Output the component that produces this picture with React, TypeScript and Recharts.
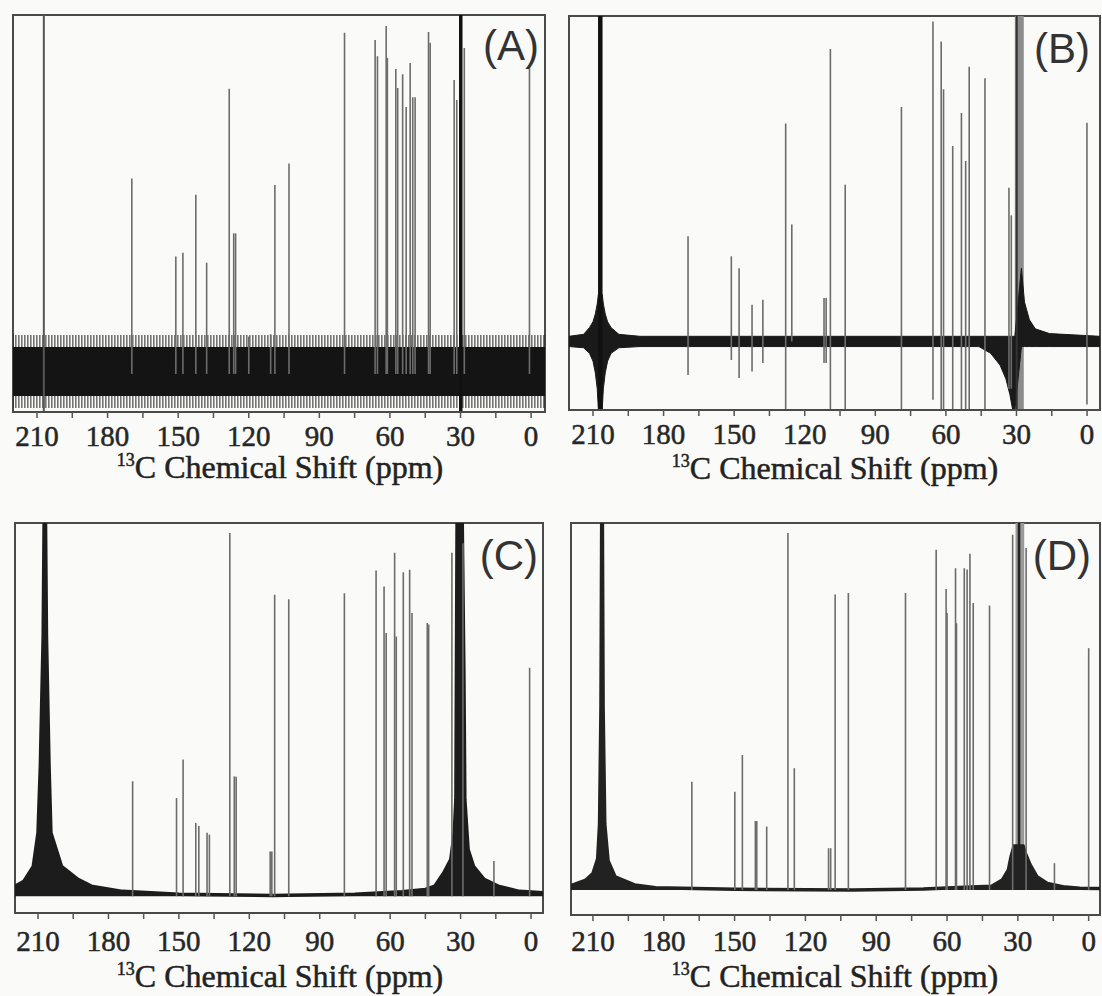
import React from "react";
import { ComposedChart, Area, XAxis, YAxis, ReferenceLine, ReferenceArea } from "recharts";

const SERIF = "Liberation Serif, Times New Roman, serif";
const SANS = "Liberation Sans, Arial, sans-serif";

const TICKS = [210, 195, 180, 165, 150, 135, 120, 105, 90, 75, 60, 45, 30, 15, 0];
const TICK_LABELS = [210, 180, 150, 120, 90, 60, 30, 0];

// (A) peaks: [ppm, intensity above baseline]
const PEAKS_A: [number, number][] = [
  [169.7, 49.2], [151.0, 29.6], [148.0, 30.5], [142.5, 45.1], [137.9, 28], [128.3, 71.8],
  [126.4, 35.4], [125.6, 35.4], [120.0, 9.4], [110.7, 10], [108.9, 47.6], [102.9, 53],
  [79.3, 85.9], [66.3, 84.1], [65.3, 80], [61.6, 87.6], [61.1, 79.6], [57.5, 76.8],
  [56.7, 72], [54.6, 75.5], [53.1, 67.2], [51.4, 78.3], [50.3, 69.7], [49.3, 69.7],
  [43.6, 86.1], [42.9, 83.4], [32.7, 74], [31.6, 69], [28.4, 82.1], [0.7, 77.4],
];
const SOLVENT_A = [207.1, 29.9];
const NOISE_A = [
  { ppm: 220.2, fuzz: [-8.6, 9.8], core: [-5.6, 6.8] },
  { ppm: -5.9, fuzz: [-8.6, 9.8], core: [-5.6, 6.8] },
];

// (B) peaks: [ppm, lowest, highest]
const PEAKS_B: [number, number, number][] = [
  [169.6, -8.5, 26.7], [151.2, -4.7, 21.6], [147.9, -9.3, 18.6], [142.4, -7.6, 9.3],
  [137.8, -5.5, 10.6], [128.1, -17.4, 55.3], [125.5, 0, 29.7], [111.8, -5.5, 11],
  [110.9, -5.5, 11], [109.1, -17.4, 74.2], [102.8, -17.4, 39.8], [78.9, -17.4, 59.5],
  [65.5, -14.8, 81.2], [62.0, -17.4, 76.1], [61.0, -17.4, 64], [57.1, -17.4, 49.6],
  [53.4, -17.4, 58], [51.6, -17.4, 45.8], [50.1, -17.4, 69.7], [43.4, -17.4, 66.8],
  [33.2, -12, 39], [32.2, -12, 32], [0.05, -16, 55.5],
];
const SOLVENT_B = [206.9, 29.9];
const SOLVENT_BAND_B = [30.7, 26.9];
const BASE_B = [
  { ppm: 220.2, band: [-1.3, 1.3] }, { ppm: 214, band: [-1.6, 1.8] }, { ppm: 211.5, band: [-3, 3.5] },
  { ppm: 210, band: [-5, 5] }, { ppm: 209, band: [-8, 7] }, { ppm: 208.2, band: [-12, 9.5] },
  { ppm: 207.7, band: [-17.4, 12] }, { ppm: 206.1, band: [-17.4, 12] }, { ppm: 205.6, band: [-12, 9.5] },
  { ppm: 204.8, band: [-8, 7] }, { ppm: 203.8, band: [-5, 5] }, { ppm: 202.3, band: [-3, 3.5] },
  { ppm: 199, band: [-1.6, 1.8] }, { ppm: 190, band: [-1.3, 1.3] }, { ppm: 46, band: [-1.3, 1.3] },
  { ppm: 41, band: [-3, 1.3] }, { ppm: 37, band: [-6, 1.3] }, { ppm: 34.5, band: [-9.5, 1.3] },
  { ppm: 32.8, band: [-13.5, 1.3] }, { ppm: 31.6, band: [-17.4, 1.3] }, { ppm: 30.7, band: [-17.4, 1.3] },
  { ppm: 27.9, band: [-1.3, 18.6] }, { ppm: 26.6, band: [-1.3, 10] }, { ppm: 24.5, band: [-1.3, 5.5] },
  { ppm: 22, band: [-1.3, 3.2] }, { ppm: 16, band: [-1.3, 2] }, { ppm: -5.5, band: [-1.3, 1.3] },
];

// (C) peaks and solvent lineshape
const PEAKS_C: [number, number][] = [
  [169.7, 30.8], [151.0, 26.3], [148.2, 36.6], [142.8, 19.6], [141.5, 18.8], [138.0, 17],
  [137.0, 16.5], [128.3, 97.3], [126.4, 32.1], [125.6, 32], [111.1, 12], [110.4, 12],
  [109.2, 80.8], [103.2, 79.6], [79.5, 81.2], [66.0, 87.3], [62.6, 83], [61.7, 70.5],
  [58.1, 92], [57.4, 69.6], [54.4, 86.8], [51.7, 87.5], [50.7, 75.9], [44.2, 73.2],
  [43.6, 72.8], [33.7, 92], [29.0, 94.6], [15.8, 9.4], [0.6, 61.2],
];
const BASE_C = [
  { ppm: 219.8, line: 2.7 }, { ppm: 216, line: 4 }, { ppm: 212, line: 8 }, { ppm: 210, line: 17 },
  { ppm: 209, line: 35 }, { ppm: 207.8, line: 70 }, { ppm: 207.4, line: 100 }, { ppm: 206.8, line: 100 },
  { ppm: 206.4, line: 70 }, { ppm: 205.3, line: 35 }, { ppm: 204.5, line: 17 }, { ppm: 200, line: 8 },
  { ppm: 193, line: 4.5 }, { ppm: 187.3, line: 2.7 }, { ppm: 174, line: 1.3 }, { ppm: 150, line: 0.5 },
  { ppm: 110, line: 0.2 }, { ppm: 75, line: 0.5 }, { ppm: 55, line: 1.2 }, { ppm: 45, line: 1.8 },
  { ppm: 41, line: 2.7 }, { ppm: 37.2, line: 6.2 }, { ppm: 34.2, line: 9.8 }, { ppm: 32.7, line: 17 },
  { ppm: 32, line: 26 }, { ppm: 31.5, line: 100 }, { ppm: 29.3, line: 100 }, { ppm: 28.6, line: 60 },
  { ppm: 28.2, line: 26 }, { ppm: 26.8, line: 12.5 }, { ppm: 24.5, line: 8 }, { ppm: 20, line: 4.5 },
  { ppm: 14, line: 2.7 }, { ppm: 5, line: 1.3 }, { ppm: -5.1, line: 0.9 },
];

// (D) peaks and solvent lineshape
const PEAKS_D: [number, number][] = [
  [168.1, 29.5], [149.9, 26.8], [146.7, 36.8], [141.2, 18.8], [140.6, 18.8], [136.4, 17.3],
  [127.4, 97.3], [124.7, 33.2], [110.2, 11.4], [109.3, 11.4], [107.4, 80.5], [101.8, 80.9],
  [77.6, 80.9], [64.6, 92.7], [60.4, 82], [60.0, 75.5], [56.4, 87.7], [56.0, 72.7],
  [52.7, 87.7], [51.5, 87.3], [50.3, 91.6], [48.9, 78.2], [42.0, 77.5], [32.2, 96.8],
  [26.5, 93.2], [14.5, 7.3], [0.0, 65.9],
];
const SOLVENT_D = 29.5;
const SOLVENT_BAND_D = [31.0, 27.3];
const BASE_D = [
  { ppm: 219.3, line: 1.2 }, { ppm: 213, line: 2.7 }, { ppm: 210, line: 4.5 }, { ppm: 208, line: 8.5 },
  { ppm: 207.2, line: 18 }, { ppm: 206.6, line: 50 }, { ppm: 206.3, line: 100 }, { ppm: 206.0, line: 100 },
  { ppm: 205.7, line: 50 }, { ppm: 205, line: 18 }, { ppm: 203.6, line: 8 }, { ppm: 200.6, line: 3.6 },
  { ppm: 192.4, line: 1.4 }, { ppm: 183.5, line: 0.6 }, { ppm: 150, line: 0.2 }, { ppm: 100, line: 0 },
  { ppm: 70, line: 0.3 }, { ppm: 50, line: 0.8 }, { ppm: 41.1, line: 1 }, { ppm: 36.6, line: 2.7 },
  { ppm: 34, line: 5.5 }, { ppm: 32.9, line: 9 }, { ppm: 31.6, line: 12 }, { ppm: 27.8, line: 12 },
  { ppm: 26.8, line: 10 }, { ppm: 24.9, line: 7 }, { ppm: 21.9, line: 3.6 }, { ppm: 17.5, line: 1.8 },
  { ppm: 10, line: 0.8 }, { ppm: 3.8, line: 0.5 }, { ppm: -4.8, line: 0.4 },
];

const STICK = "#6c6c6c";

function Tick(props: any) {
  const { x, y, payload } = props;
  const v = payload.value;
  if (!TICK_LABELS.includes(v)) return <g />;
  return (
    <text x={x} y={y} dy={20} textAnchor="middle" fontFamily={SERIF} fontSize={29} fill="#262626" stroke="#262626" strokeWidth={0.5}>
      {v}
    </text>
  );
}

function axes(xDomain: [number, number], yDomain: [number, number], axisHeight: number, tickMargin: number) {
  return [
    <XAxis
      key="x"
      dataKey="ppm"
      type="number"
      domain={xDomain}
      reversed
      allowDataOverflow
      ticks={TICKS}
      interval={0}
      tick={<Tick />}
      tickLine={{ stroke: "#555", strokeWidth: 1.5 }}
      tickSize={6}
      tickMargin={tickMargin}
      axisLine={{ stroke: "#4a4a4a", strokeWidth: 2 }}
      height={axisHeight}
    />,
    <YAxis key="y" hide type="number" domain={yDomain} allowDataOverflow />,
    <ReferenceArea
      key="frame"
      x1={xDomain[0]}
      x2={xDomain[1]}
      y1={yDomain[0]}
      y2={yDomain[1]}
      fill="none"
      stroke="#4a4a4a"
      strokeWidth={2}
      ifOverflow="visible"
    />,
  ];
}

function sticks(peaks: [number, number][], prefix: string) {
  return peaks.map(([p, h]) => (
    <ReferenceLine
      key={prefix + p}
      segment={[{ x: p, y: 0 }, { x: p, y: h }]}
      stroke={STICK}
      strokeWidth={1.6}
      ifOverflow="hidden"
    />
  ));
}

function Title({ cx, y }: { cx: number; y: number }) {
  return (
    <text x={cx} y={y} textAnchor="middle" fontFamily={SERIF} fontSize={32} fill="#222" stroke="#222" strokeWidth={0.5}>
      <tspan fontSize={18} dy={-12}>13</tspan>
      <tspan dy={12}>C Chemical Shift (ppm)</tspan>
    </text>
  );
}

function Tag({ x, y, text }: { x: number; y: number; text: string }) {
  return (
    <text x={x} y={y} textAnchor="end" fontFamily={SANS} fontSize={42} fill="#333">
      {text}
    </text>
  );
}

export default function App() {
  const xA: [number, number] = [-5.9, 220.2];
  const yA: [number, number] = [-9.6, 90.4];
  const xB: [number, number] = [-5.5, 220.2];
  const yB: [number, number] = [-17.4, 82.6];
  const xC: [number, number] = [-5.1, 219.8];
  const yC: [number, number] = [-4.5, 100];
  const xD: [number, number] = [-4.8, 219.3];
  const yD: [number, number] = [-6.8, 100];

  return (
    <div style={{ position: "absolute", left: 0, top: 0, width: 1102, height: 996, background: "#fafaf8", overflow: "hidden" }}>
      <svg width={0} height={0} style={{ position: "absolute" }}>
        <defs>
          <pattern id="fuzz" width={3} height={12} patternUnits="userSpaceOnUse">
            <rect x={0} y={0} width={1.6} height={12} fill="#1a1a1a" />
          </pattern>
        </defs>
      </svg>
      <div style={{ position: "absolute", left: 0, top: 0 }}>
        <ComposedChart width={551} height={500} data={NOISE_A} margin={{ top: 15, left: 13, right: 6, bottom: 0 }}>
          {axes(xA, yA, 88, 8)}
          <Area type="linear" dataKey="fuzz" stroke="none" fill="url(#fuzz)" fillOpacity={0.6} isAnimationActive={false} dot={false} activeDot={false} />
          <Area type="linear" dataKey="core" stroke="none" fill="#141414" fillOpacity={1} isAnimationActive={false} dot={false} activeDot={false} />
          {sticks(PEAKS_A, "a")}
          <ReferenceLine x={SOLVENT_A[0]} stroke="#555" strokeWidth={2} />
          <ReferenceLine x={SOLVENT_A[1]} stroke="#111" strokeWidth={3.5} />
        </ComposedChart>
      </div>

      <div style={{ position: "absolute", left: 551, top: 0 }}>
        <ComposedChart width={551} height={500} data={BASE_B} margin={{ top: 16, left: 18, right: 2, bottom: 0 }}>
          {axes(xB, yB, 90, 8)}
          <ReferenceArea x1={SOLVENT_BAND_B[0]} x2={SOLVENT_BAND_B[1]} fill="#8c8c8c" fillOpacity={1} stroke="none" />
          <Area type="linear" dataKey="band" stroke="#1a1a1a" strokeWidth={1} fill="#1a1a1a" fillOpacity={1} isAnimationActive={false} dot={false} activeDot={false} />
          {PEAKS_B.map(([p, lo, hi]) => (
            <ReferenceLine key={"b" + p} segment={[{ x: p, y: lo }, { x: p, y: hi }]} stroke={STICK} strokeWidth={1.6} ifOverflow="hidden" />
          ))}
          <ReferenceLine x={SOLVENT_B[0]} stroke="#111" strokeWidth={4.5} />
          <ReferenceLine x={SOLVENT_B[1]} stroke="#333" strokeWidth={2} />
        </ComposedChart>
      </div>

      <div style={{ position: "absolute", left: 0, top: 500 }}>
        <ComposedChart width={551} height={496} data={BASE_C} margin={{ top: 23, left: 15, right: 8, bottom: 0 }}>
          {axes(xC, yC, 83, 12)}
          <Area type="linear" dataKey="line" baseValue={0} stroke="#1c1c1c" strokeWidth={3.5} fill="#1c1c1c" fillOpacity={1} isAnimationActive={false} dot={false} activeDot={false} />
          {sticks(PEAKS_C, "c")}
        </ComposedChart>
      </div>

      <div style={{ position: "absolute", left: 551, top: 500 }}>
        <ComposedChart width={551} height={496} data={BASE_D} margin={{ top: 23, left: 20, right: 2, bottom: 0 }}>
          {axes(xD, yD, 81, 10)}
          <ReferenceArea x1={SOLVENT_BAND_D[0]} x2={SOLVENT_BAND_D[1]} y1={0} y2={100} fill="#9a9a9a" fillOpacity={1} stroke="none" />
          <Area type="linear" dataKey="line" baseValue={0} stroke="#222" strokeWidth={3.5} fill="#222" fillOpacity={1} isAnimationActive={false} dot={false} activeDot={false} />
          {sticks(PEAKS_D, "d")}
          <ReferenceLine segment={[{ x: SOLVENT_D, y: 0 }, { x: SOLVENT_D, y: 100 }]} stroke="#222" strokeWidth={2.5} ifOverflow="hidden" />
        </ComposedChart>
      </div>

      <svg width={1102} height={996} style={{ position: "absolute", left: 0, top: 0, pointerEvents: "none" }}>
        <Title cx={280} y={478} />
        <Title cx={835} y={479} />
        <Title cx={280} y={987} />
        <Title cx={835} y={987} />
        <Tag x={539} y={60} text="(A)" />
        <Tag x={1090} y={63} text="(B)" />
        <Tag x={538} y={570} text="(C)" />
        <Tag x={1091} y={570} text="(D)" />
      </svg>
    </div>
  );
}
